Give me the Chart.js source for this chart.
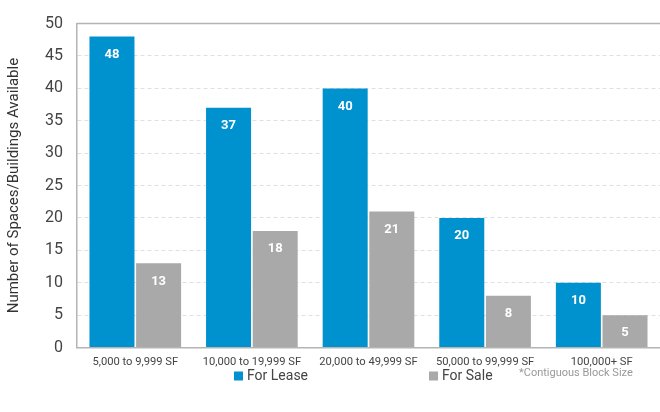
<!DOCTYPE html>
<html>
<head>
<meta charset="utf-8">
<script src="https://cdn.jsdelivr.net/npm/chart.js@4.4.1/dist/chart.umd.min.js"></script>
<style>
html,body{margin:0;padding:0;background:#fff;}
#wrap{width:660px;height:412px;position:relative;}
</style>
</head>
<body>
<div id="wrap"><canvas id="c"></canvas></div>
<script>
const categories = ["5,000 to 9,999 SF","10,000 to 19,999 SF","20,000 to 49,999 SF","50,000 to 99,999 SF","100,000+ SF"];
const forLease = [48, 37, 40, 20, 10];
const forSale = [13, 18, 21, 8, 5];
const yTicks = [0,5,10,15,20,25,30,35,40,45,50];
const seriesNames = ["For Lease","For Sale"];
const yTitle = "Number of Spaces/Buildings Available";
const note = "*Contiguous Block Size";

const FONT = "Roboto, 'DejaVu Sans', sans-serif";

const extras = {
  id: 'extras',
  afterDatasetsDraw(chart) {
    const ctx = chart.ctx;
    ctx.save();
    ctx.fillStyle = '#fff';
    ctx.font = "bold 13px " + FONT;
    ctx.textAlign = 'center';
    ctx.textBaseline = 'middle';
    chart.data.datasets.forEach((ds, i) => {
      const meta = chart.getDatasetMeta(i);
      meta.data.forEach((bar, j) => {
        ctx.fillText(String(ds.data[j]), bar.x, bar.y + 18);
      });
    });
    ctx.restore();
  },
  afterDraw(chart) {
    const ctx = chart.ctx;
    const a = chart.chartArea;
    ctx.save();
    ctx.strokeStyle = '#b4b4b4';
    ctx.lineWidth = 1.5;
    ctx.beginPath();
    ctx.moveTo(a.left, a.top);
    ctx.lineTo(a.right, a.top);
    ctx.stroke();
    const ly = 376;
    const xs = [234, 429];
    ctx.font = "14px " + FONT;
    ctx.textBaseline = 'middle';
    ctx.textAlign = 'left';
    chart.data.datasets.forEach((ds, i) => {
      ctx.fillStyle = ds.backgroundColor;
      ctx.fillRect(xs[i], ly - 4.5, 9, 9);
      ctx.fillStyle = '#444';
      ctx.fillText(ds.label, xs[i] + 13, ly);
    });
    ctx.font = "11px " + FONT;
    ctx.fillStyle = '#999';
    ctx.fillText(note, 519, ly - 3);
    ctx.restore();
  }
};

new Chart(document.getElementById('c'), {
  type: 'bar',
  data: {
    labels: categories,
    datasets: [
      { label: seriesNames[0], data: forLease, backgroundColor: '#0091cf', barPercentage: 0.965, categoryPercentage: 0.8 },
      { label: seriesNames[1], data: forSale, backgroundColor: '#a9a9a9', barPercentage: 0.965, categoryPercentage: 0.8 }
    ]
  },
  options: {
    responsive: true,
    maintainAspectRatio: false,
    animation: false,
    layout: { padding: { left: 5, right: 0, top: 9, bottom: 35 } },
    plugins: {
      legend: { display: false },
      tooltip: { enabled: false }
    },
    scales: {
      x: {
        grid: { display: false, drawTicks: false },
        border: { display: true, color: '#b4b4b4', width: 1.5 },
        ticks: { color: '#444', font: { size: 11.2, family: FONT }, padding: 8, maxRotation: 0 }
      },
      y: {
        min: 0, max: 50,
        afterBuildTicks(scale) { scale.ticks = yTicks.map(v => ({ value: v })); },
        grid: {
          color: (c) => (c.tick && (c.tick.value === 0 || c.tick.value === 50)) ? 'rgba(0,0,0,0)' : '#e0e0e0',
          drawTicks: false,
          lineWidth: 1
        },
        border: { display: true, color: '#b4b4b4', width: 1.5, dash: [4, 3] },
        ticks: { color: '#444', font: { size: 16, family: FONT }, padding: 14 },
        title: { display: true, text: yTitle, color: '#333', font: { size: 15, family: FONT }, padding: { top: 0, bottom: 8 } }
      }
    }
  },
  plugins: [extras]
});
</script>
</body>
</html>
